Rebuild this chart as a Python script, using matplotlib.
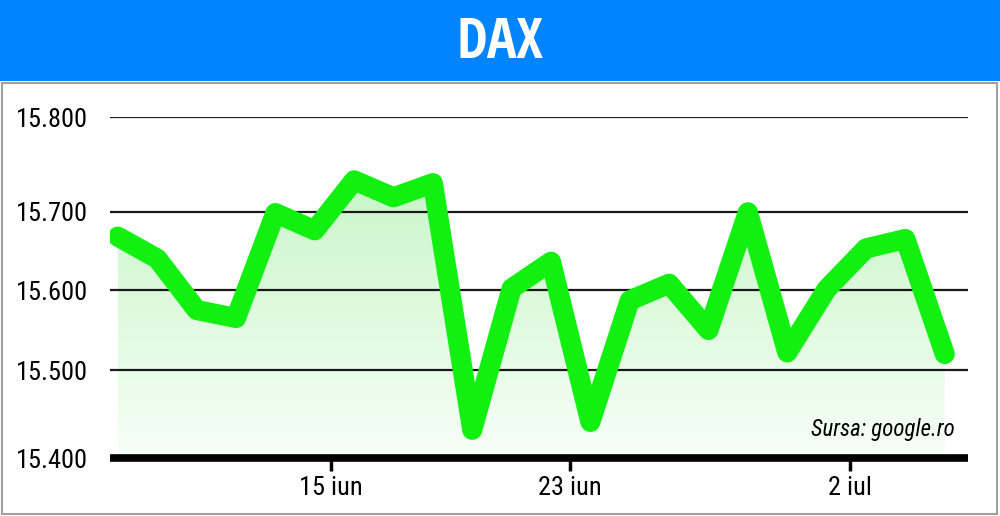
import numpy as np
import matplotlib
matplotlib.use("Agg")
import matplotlib.pyplot as plt
from matplotlib.colors import LinearSegmentedColormap
from matplotlib.patches import Rectangle

# valorile DAX (zile de tranzacționare, 7 iun - 6 iul)
zile = ["7 iun", "8 iun", "9 iun", "10 iun", "11 iun", "14 iun", "15 iun", "16 iun",
        "17 iun", "18 iun", "21 iun", "22 iun", "23 iun", "24 iun", "25 iun", "28 iun",
        "29 iun", "30 iun", "1 iul", "2 iul", "5 iul", "6 iul"]
dax = [15668, 15640, 15575, 15565, 15698, 15676, 15733, 15715,
       15730, 15432, 15602, 15636, 15441, 15587, 15608, 15550,
       15699, 15522, 15601, 15653, 15665, 15520]

y_ticks = [15400, 15500, 15600, 15700, 15800]
y_labels = ["15.400", "15.500", "15.600", "15.700", "15.800"]
x_ticks = [5.4, 11.48, 18.6]
x_labels = ["15 iun", "23 iun", "2 iul"]

# distanțele neuniforme dintre liniile grilei din original
grid_pix = [458, 370, 290, 211.5, 117]
grid_neg = [-p for p in grid_pix]


def fwd(v):
    return np.interp(v, y_ticks, grid_neg)


def inv(p):
    return np.interp(p, grid_neg, y_ticks)


titlu_font = ["Open Sans Condensed", "DejaVu Sans"]
cond = ["Roboto Condensed", "DejaVu Sans"]

fig = plt.figure(figsize=(10, 5.16), dpi=100)
fig.patch.set_facecolor("white")

# banda albastră cu titlul
fig.patches.append(Rectangle((0, 1 - 81 / 516), 1, 81 / 516, transform=fig.transFigure,
                             facecolor="#0084ff", edgecolor="none", zorder=0))
fig.patches.append(Rectangle((2 / 1000, 2 / 516), 995 / 1000, (516 - 83 - 2) / 516,
                             transform=fig.transFigure, facecolor="none",
                             edgecolor="#a0a0a0", lw=1.5, zorder=0))
fig.text(0.5, 1 - 44 / 516, "DAX", color="white", fontsize=40, fontweight="bold",
         family=titlu_font, stretch="condensed", ha="center", va="center")

# axa: x de la 110 la 968 px, y de la 458 la 117 px
ax = fig.add_axes([110 / 1000, (516 - 458) / 516, 858 / 1000, (458 - 117) / 516])
ax.set_yscale("function", functions=(fwd, inv))
ax.set_ylim(15400, 15800)
x = np.arange(len(dax))
ax.set_xlim(-0.2, 21.59)

for s in ["top", "right", "left"]:
    ax.spines[s].set_visible(False)
ax.spines["bottom"].set_linewidth(5.5)
ax.spines["bottom"].set_capstyle("butt")

for v in y_ticks[1:]:
    ax.axhline(v, color="#1a1a1a", lw=1.6, zorder=2)

# umplere cu degrade sub linie
fill = ax.fill_between(x, dax, 15400, facecolor="none", edgecolor="none", zorder=1)
grad = LinearSegmentedColormap.from_list("g", ["#f7fff7", "#c9f6c9"])
img = ax.imshow(np.linspace(0, 1, 256).reshape(-1, 1), cmap=grad, aspect="auto",
                extent=[0, 1, 0, 0.82], origin="lower", transform=ax.transAxes, zorder=1)
img.set_clip_path(fill.get_paths()[0], transform=ax.transData)

ax.plot(x, dax, color="#11f011", lw=14.5, solid_capstyle="round",
        solid_joinstyle="round", zorder=3)

ax.set_yticks(y_ticks)
ax.set_yticklabels(y_labels, fontsize=19, family=cond, stretch="condensed")
ax.tick_params(axis="y", length=0, pad=16)
ax.set_xticks(x_ticks)
ax.set_xticklabels(x_labels, fontsize=19, family=cond, stretch="condensed")
ax.tick_params(axis="x", length=9, width=2.5, color="black", pad=4, direction="out")

ax.text(0.985, 0.085, "Sursa: google.ro", transform=ax.transAxes, ha="right", va="center",
        fontsize=16.5, style="italic", family=cond, stretch="condensed", zorder=4)

fig.savefig("out.png", dpi=100)
